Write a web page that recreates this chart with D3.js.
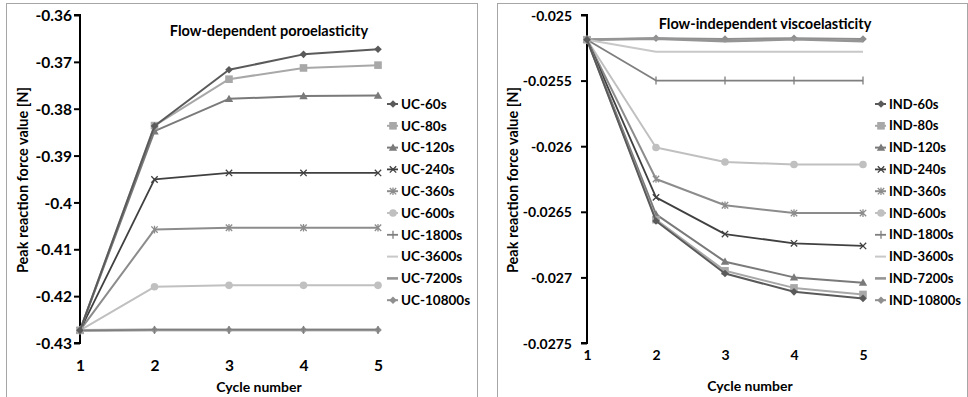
<!DOCTYPE html>
<html>
<head>
<meta charset="utf-8">
<script src="https://cdn.jsdelivr.net/npm/d3@7"></script>
<style>
  html, body { margin: 0; padding: 0; background: #fff; }
  svg { display: block; }
  text { font-family: Lato, "Open Sans", sans-serif; font-weight: 700; fill: #000; }
</style>
</head>
<body>
<svg id="chart" width="968" height="397"></svg>
<script>
// Cycle numbers shared by both panels
const cycles = [1, 2, 3, 4, 5];

// Flow-dependent poroelasticity (unconfined compression)
const ucNames = ["UC-60s", "UC-80s", "UC-120s", "UC-240s", "UC-360s",
                 "UC-600s", "UC-1800s", "UC-3600s", "UC-7200s", "UC-10800s"];
const ucValues = [
  [-0.4273, -0.3837, -0.3717, -0.3684, -0.3673],
  [-0.4273, -0.3836, -0.3737, -0.3713, -0.3707],
  [-0.4273, -0.3848, -0.3779, -0.3773, -0.3772],
  [-0.4273, -0.3951, -0.3937, -0.3937, -0.3937],
  [-0.4273, -0.4058, -0.4054, -0.4054, -0.4054],
  [-0.4273, -0.4180, -0.4177, -0.4177, -0.4177],
  [-0.4273, -0.4272, -0.4272, -0.4272, -0.4272],
  [-0.4273, -0.4273, -0.4273, -0.4273, -0.4273],
  [-0.4273, -0.4272, -0.4272, -0.4272, -0.4272],
  [-0.4273, -0.4272, -0.4272, -0.4272, -0.4272]
];
const ucTicks = [-0.36, -0.37, -0.38, -0.39, -0.40, -0.41, -0.42, -0.43];

// Flow-independent viscoelasticity (indentation)
const indNames = ["IND-60s", "IND-80s", "IND-120s", "IND-240s", "IND-360s",
                  "IND-600s", "IND-1800s", "IND-3600s", "IND-7200s", "IND-10800s"];
const indValues = [
  [-0.025188, -0.02657, -0.02697, -0.02711, -0.02716],
  [-0.025188, -0.02656, -0.02695, -0.02708, -0.02713],
  [-0.025188, -0.02652, -0.02688, -0.02700, -0.02704],
  [-0.025188, -0.02639, -0.02667, -0.02674, -0.02676],
  [-0.025188, -0.02625, -0.02645, -0.02651, -0.02651],
  [-0.025188, -0.02601, -0.02612, -0.02614, -0.02614],
  [-0.025188, -0.02550, -0.02550, -0.02550, -0.02550],
  [-0.025188, -0.02528, -0.02528, -0.02528, -0.02528],
  [-0.025188, -0.025180, -0.025200, -0.025185, -0.025200],
  [-0.025188, -0.025177, -0.025183, -0.025177, -0.025183]
];
const indTicks = [-0.025, -0.0255, -0.026, -0.0265, -0.027, -0.0275];

// Greyscale series styles: marker shape, line colour, line width
const seriesStyles = [
  { marker: "diamond",  color: "#5a5a5a", width: 2 },
  { marker: "square",   color: "#a8a8a8", width: 2 },
  { marker: "triangle", color: "#7a7a7a", width: 2 },
  { marker: "x",        color: "#404040", width: 1.8 },
  { marker: "star",     color: "#8c8c8c", width: 2 },
  { marker: "circle",   color: "#c0c0c0", width: 2 },
  { marker: "plus",     color: "#7f7f7f", width: 1.8 },
  { marker: "none",     color: "#c8c8c8", width: 2 },
  { marker: "none",     color: "#959595", width: 2.6 },
  { marker: "diamond",  color: "#8f8f8f", width: 2 }
];

const svg = d3.select("#chart");

function drawMarker(g, type, x, y, color) {
  const s = 3.8;
  if (type === "diamond") {
    g.append("path").attr("d", `M${x},${y - s}L${x + s},${y}L${x},${y + s}L${x - s},${y}Z`).attr("fill", color);
  } else if (type === "square") {
    g.append("rect").attr("x", x - 3.8).attr("y", y - 3.8).attr("width", 7.6).attr("height", 7.6).attr("fill", color);
  } else if (type === "triangle") {
    g.append("path").attr("d", `M${x},${y - 4.2}L${x + 4.2},${y + 3.2}L${x - 4.2},${y + 3.2}Z`).attr("fill", color);
  } else if (type === "circle") {
    g.append("circle").attr("cx", x).attr("cy", y).attr("r", 3.8).attr("fill", color);
  } else if (type === "x") {
    g.append("path").attr("d", `M${x - 3.2},${y - 3.2}L${x + 3.2},${y + 3.2}M${x - 3.2},${y + 3.2}L${x + 3.2},${y - 3.2}`)
      .attr("stroke", color).attr("stroke-width", 1.3);
  } else if (type === "star") {
    g.append("path").attr("d", `M${x - 3.2},${y - 3.2}L${x + 3.2},${y + 3.2}M${x - 3.2},${y + 3.2}L${x + 3.2},${y - 3.2}M${x},${y - 3.8}L${x},${y + 3.8}`)
      .attr("stroke", color).attr("stroke-width", 1.3);
  } else if (type === "plus") {
    g.append("path").attr("d", `M${x},${y - 4}L${x},${y + 4}`)
      .attr("stroke", color).attr("stroke-width", 1.3);
  }
}

function drawPanel(cfg) {
  const g = svg.append("g");

  // chart frame
  g.append("rect")
    .attr("x", cfg.frame[0] + 0.5).attr("y", cfg.frame[1] + 0.5)
    .attr("width", cfg.frame[2]).attr("height", cfg.frame[3])
    .attr("fill", "#fff").attr("stroke", "#a6a6a6").attr("stroke-width", 1);

  const x = d3.scaleLinear().domain([1, 5]).range([cfg.plot.left, cfg.plot.right]);
  const y = d3.scaleLinear().domain(cfg.yDomain).range([cfg.plot.bottom, cfg.plot.top]);

  // y axis
  const yAxis = d3.axisLeft(y).tickValues(cfg.ticks).tickSize(6).tickPadding(cfg.tickPad)
    .tickFormat(d => String(+d.toPrecision(6)));
  const ya = g.append("g").attr("transform", `translate(${cfg.plot.left},0)`).call(yAxis);
  ya.select(".domain").attr("stroke", "#000").attr("stroke-width", 2)
    .attr("d", `M-6,${y(cfg.yDomain[1])}H0V${y(cfg.yDomain[0])}H-6`);
  ya.selectAll(".tick line").attr("stroke", "#000").attr("stroke-width", 2);
  ya.selectAll(".tick text").attr("font-size", cfg.tickFont).attr("dy", "0.36em")
    .style("font-family", "Lato, sans-serif").style("font-weight", 700).attr("fill", "#000");

  // x axis labels (no axis line)
  const xAxis = d3.axisBottom(x).tickValues(cfg.xTicks).tickSize(0).tickPadding(0).tickFormat(d3.format("d"));
  const xa = g.append("g").attr("transform", `translate(0,${cfg.xLabelY})`).call(xAxis);
  xa.select(".domain").remove();
  xa.selectAll(".tick text").attr("font-size", cfg.tickFont).attr("dy", "0.36em").attr("y", 0)
    .style("font-family", "Lato, sans-serif").style("font-weight", 700).attr("fill", "#000");

  // titles
  g.append("text").attr("x", cfg.titlePos[0]).attr("y", cfg.titlePos[1]).attr("dy", "0.36em")
    .attr("text-anchor", "middle").attr("font-size", 14.5).text(cfg.title);
  g.append("text").attr("x", cfg.xTitlePos[0]).attr("y", cfg.xTitlePos[1]).attr("dy", "0.36em")
    .attr("text-anchor", "middle").attr("font-size", 14).text("Cycle number");
  g.append("text")
    .attr("transform", `translate(${cfg.yTitlePos[0]},${cfg.yTitlePos[1]}) rotate(-90)`)
    .attr("dy", "0.36em").attr("text-anchor", "middle").attr("font-size", 14.5)
    .text("Peak reaction force value [N]");

  // series lines and markers (last series drawn first so early ones sit on top)
  const line = d3.line().x((d, i) => x(cycles[i])).y(d => y(d));
  for (let k = cfg.values.length - 1; k >= 0; k--) {
    const st = seriesStyles[k];
    const sg = g.append("g");
    sg.append("path").attr("d", line(cfg.values[k])).attr("fill", "none")
      .attr("stroke", st.color).attr("stroke-width", st.width).attr("stroke-linejoin", "round");
    cfg.values[k].forEach((v, i) => drawMarker(sg, st.marker, x(cycles[i]), y(v), st.color));
  }

  // legend
  const lg = g.append("g");
  cfg.names.forEach((name, k) => {
    const st = seriesStyles[k];
    const ly = cfg.legend.y0 + k * cfg.legend.step;
    const lx = cfg.legend.x;
    lg.append("line").attr("x1", lx - 6).attr("x2", lx + 5).attr("y1", ly).attr("y2", ly)
      .attr("stroke", st.color).attr("stroke-width", st.width);
    drawMarker(lg, st.marker, lx, ly, st.color);
    lg.append("text").attr("x", lx + 8).attr("y", ly).attr("dy", "0.36em")
      .attr("font-size", cfg.legend.font).text(name);
  });
}

drawPanel({
  frame: [6, 3, 471, 400],
  plot: { left: 80, right: 378, top: 15, bottom: 343 },
  yDomain: [-0.43, -0.36],
  ticks: ucTicks,
  tickPad: 2,
  tickFont: 15.5,
  xTicks: cycles,
  xLabelY: 365,
  values: ucValues,
  names: ucNames,
  title: "Flow-dependent poroelasticity",
  titlePos: [269, 31],
  xTitlePos: [259, 387],
  yTitlePos: [23, 180],
  legend: { x: 393, y0: 104, step: 21.8, font: 13.5 }
});

drawPanel({
  frame: [497, 3, 470, 400],
  plot: { left: 587, right: 863, top: 15, bottom: 343 },
  yDomain: [-0.0275, -0.025],
  ticks: indTicks,
  tickPad: 9,
  tickFont: 14,
  xTicks: cycles,
  xLabelY: 355,
  values: indValues,
  names: indNames,
  title: "Flow-independent viscoelasticity",
  titlePos: [765, 24],
  xTitlePos: [750, 386],
  yTitlePos: [513, 180],
  legend: { x: 881, y0: 104, step: 21.8, font: 13 }
});
</script>
</body>
</html>
